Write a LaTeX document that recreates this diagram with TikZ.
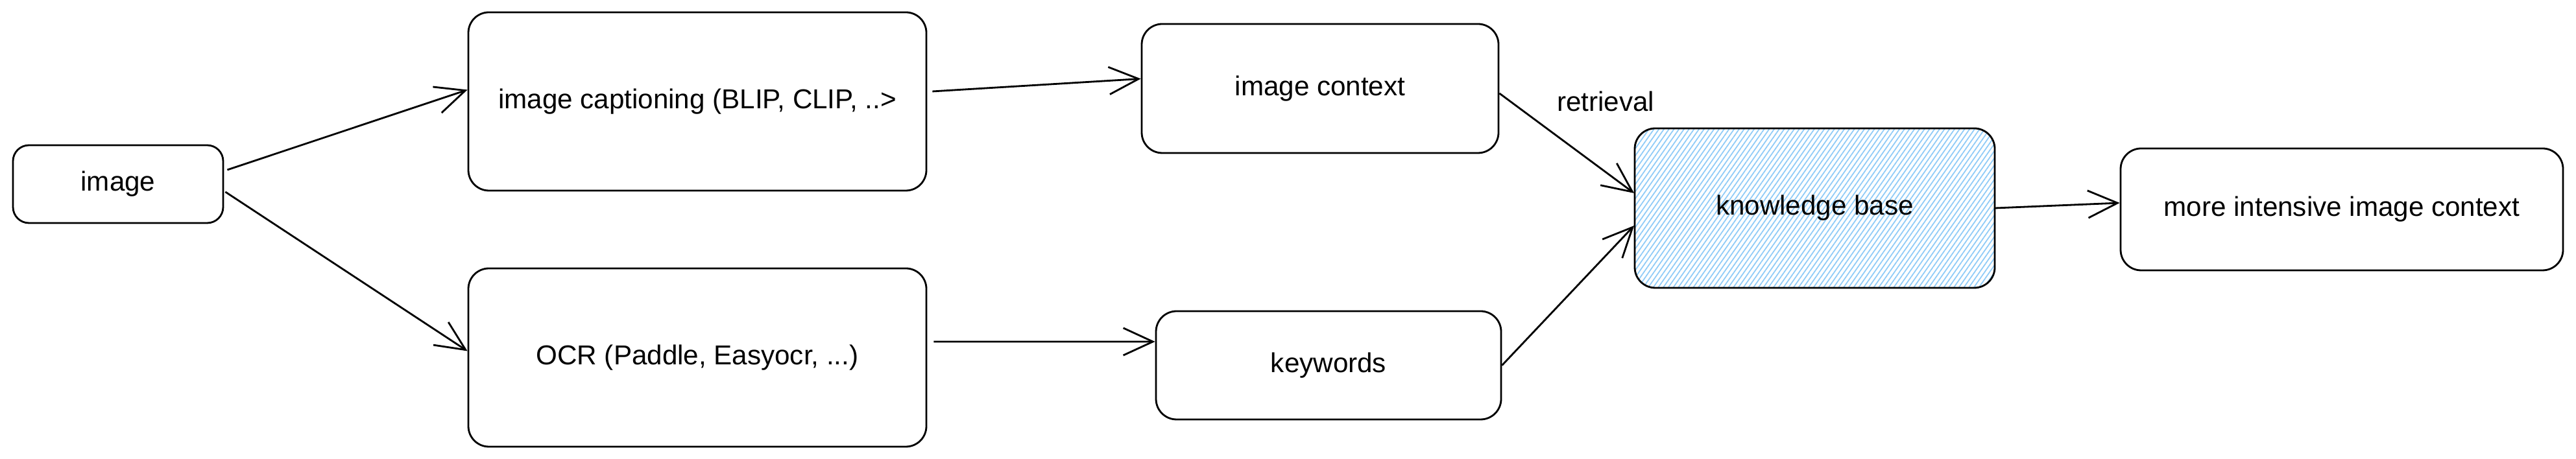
\documentclass[tikz,border=0pt]{standalone}
\usepackage{fontspec}
\setmainfont{Liberation Sans}
\usetikzlibrary{arrows.meta,patterns.meta}
\definecolor{kbblue}{HTML}{8FCBF7}
\def \Radius {9pt}
\tikzstyle{box}=[
  draw=black,
  line width=0.8pt,
  rounded corners=\Radius,
  align=center,
  font=\fontsize{12}{14}\selectfont
]
\tikzstyle{hatched}=[
  pattern={Lines[angle=55,distance=1.8pt,line width=0.5pt]},
  pattern color=kbblue
]
\tikzstyle{flow}=[
  line width=0.8pt,
  -{Straight Barb[length=13pt,width=12pt,line width=0.8pt]}
]

\begin{document}
\begin{tikzpicture}
          \useasboundingbox (0,0) rectangle (39.71,7.08);
          \def \bigW {7.06}
          \def \bigH {2.75}

          \node[box,rounded corners=7pt,minimum width=3.24cm,minimum height=1.20cm] (img) at (1.82, 4.24) {image};

          \node[box,minimum width=\bigW cm,minimum height=\bigH cm] (cap) at (10.75, 5.515) {image captioning (BLIP, CLIP, ..>};
          \node[box,minimum width=\bigW cm,minimum height=\bigH cm] (ocr) at (10.75, 1.565) {OCR (Paddle, Easyocr, ...)};

          \node[box,minimum width=5.50cm,minimum height=1.99cm] (ctx) at (20.35, 5.715) {image context};
          \node[box,minimum width=5.32cm,minimum height=1.67cm] (kw) at (20.48, 1.445) {keywords};

          \node[box,hatched,minimum width=5.55cm,minimum height=2.46cm] (kb) at (27.975, 3.87) {knowledge base};
          \node[box,minimum width=6.82cm,minimum height=1.88cm] (out) at (36.10, 3.85) {more intensive image context};

          \node[font=\fontsize{12}{14}\selectfont] (ret) at (24.75, 5.52) {retrieval};

          \draw[flow] ([shift={(0.05,0.22)}]img.east) -- ([yshift=0.18cm]cap.west);
          \draw[flow] ([shift={(0.02,-0.12)}]img.east) -- ([yshift=0.10cm]ocr.west);
          \draw[flow] ([shift={(0.08,0.155)}]cap.east) -- ([yshift=0.15cm]ctx.west);
          \draw[flow] ([shift={(0.10,0.245)}]ocr.east) -- ([yshift=0.365cm]kw.west);
          \draw[flow] ([yshift=-0.075cm]ctx.east) -- ([yshift=0.23cm]kb.west);
          \draw[flow] (kw.east) -- ([yshift=-0.27cm]kb.west);
          \draw[flow] (kb.east) -- ([yshift=0.10cm]out.west);
\end{tikzpicture}
\end{document}
